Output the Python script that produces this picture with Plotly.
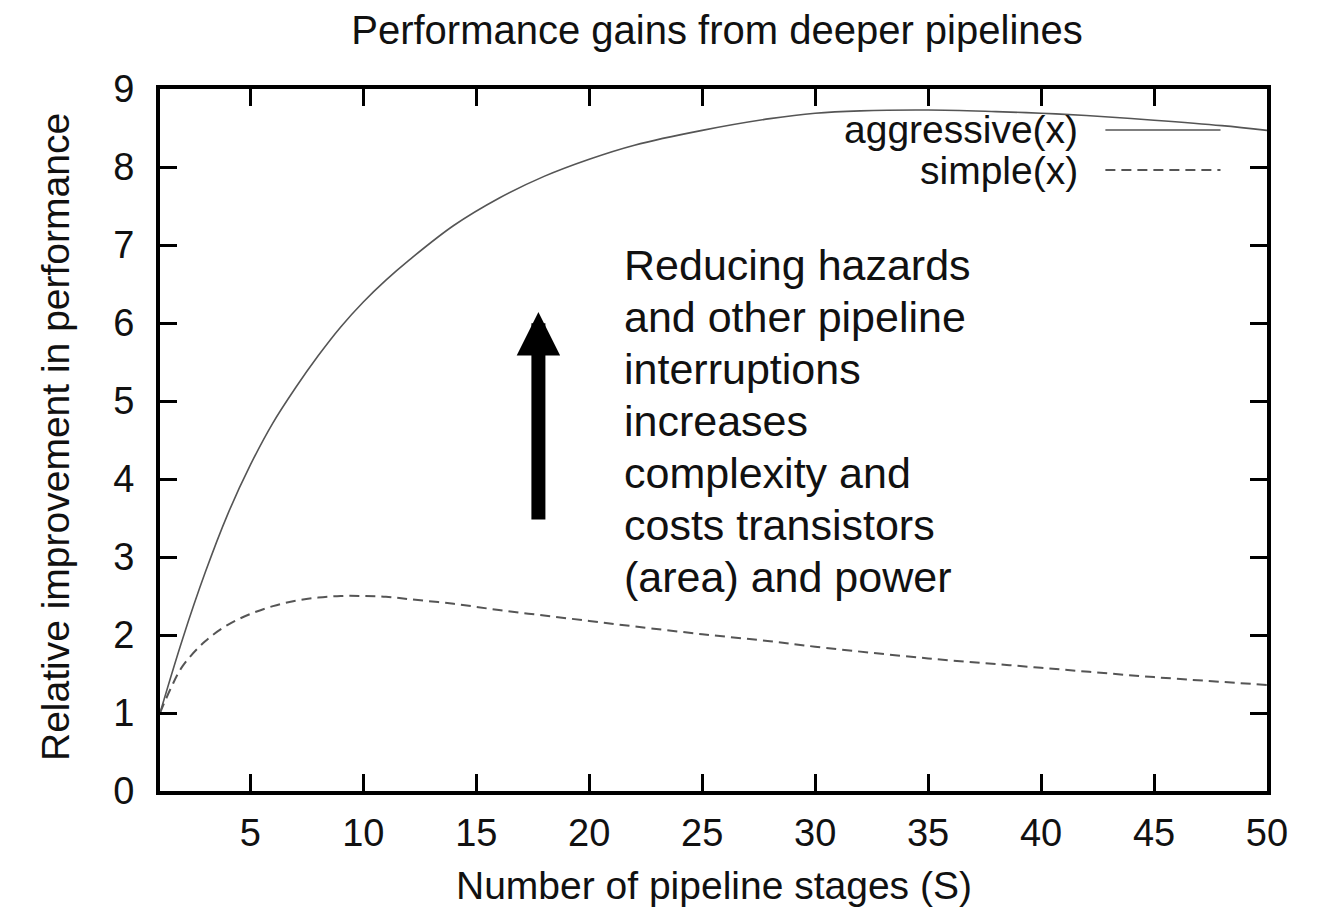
import plotly.graph_objects as go

# ---- data ----
stages_aggr = [1, 2, 3, 4, 5, 6, 7, 8, 9, 10, 11, 12, 14, 16, 18, 20, 22, 25, 28, 30, 32, 35, 38, 40, 42, 45, 48, 50]
aggressive = [1.0, 1.95, 2.8, 3.55, 4.18, 4.72, 5.17, 5.58, 5.95, 6.27, 6.55, 6.8, 7.25, 7.6, 7.88, 8.1, 8.28, 8.47, 8.62, 8.69, 8.72, 8.73, 8.71, 8.69, 8.66, 8.6, 8.53, 8.47]

stages_simple = [1, 1.5, 2, 3, 4, 5, 6, 7, 8, 9, 10, 11, 12, 14, 16, 18, 20, 22, 25, 28, 30, 35, 40, 45, 50]
simple = [1.0, 1.33, 1.6, 1.92, 2.13, 2.27, 2.37, 2.44, 2.48, 2.5, 2.5, 2.49, 2.46, 2.4, 2.32, 2.25, 2.18, 2.11, 2.01, 1.92, 1.85, 1.7, 1.58, 1.46, 1.36]

x_ticks = [5, 10, 15, 20, 25, 30, 35, 40, 45, 50]
y_ticks = [0, 1, 2, 3, 4, 5, 6, 7, 8, 9]
series_names = ["aggressive(x)", "simple(x)"]

title_text = "Performance gains from deeper pipelines"
x_title = "Number of pipeline stages (S)"
y_title = "Relative improvement in performance"
note_lines = ["Reducing hazards", "and other pipeline", "interruptions", "increases",
              "complexity and", "costs transistors", "(area) and power"]

FONT = "Liberation Sans, Arial, Helvetica, sans-serif"
INK = "#111111"
LINE = "#555555"

fig = go.Figure()
fig.add_trace(go.Scatter(x=stages_aggr, y=aggressive, mode="lines", name=series_names[0],
                         line=dict(color=LINE, width=1.6, shape="spline"), showlegend=False))
fig.add_trace(go.Scatter(x=stages_simple, y=simple, mode="lines", name=series_names[1],
                         line=dict(color=LINE, width=2, dash="10px,6px", shape="spline"), showlegend=False))

# gnuplot-style key: text right-aligned, sample line to its right
key_rows = [(0.9416, "solid", 1.6), (0.8846, "10px,6px", 2)]
for name, (yy, dash, w) in zip(series_names, key_rows):
    fig.add_annotation(xref="paper", yref="paper", x=0.831, y=yy, text=name, showarrow=False,
                       xanchor="right", yanchor="middle", font=dict(family=FONT, size=39, color=INK))
    fig.add_shape(type="line", xref="paper", yref="paper", x0=0.854, x1=0.958, y0=yy, y1=yy,
                  line=dict(color=LINE, width=w, dash=dash))

# explanatory text, one annotation per line (gnuplot line spacing)
first_line_y = (791 - 265) / 702
line_step = 52 / 702
for i, line in enumerate(note_lines):
    fig.add_annotation(xref="paper", yref="paper", x=0.417, y=first_line_y - i * line_step,
                       text=line, showarrow=False, xanchor="left", yanchor="middle", align="left",
                       font=dict(family=FONT, size=43, color=INK))

# axis titles
fig.add_annotation(xref="paper", yref="paper", x=0.5, y=-0.134, text=x_title, showarrow=False,
                   xanchor="center", yanchor="middle", font=dict(family=FONT, size=39, color=INK))
fig.add_annotation(xref="paper", yref="paper", x=-0.095, y=0.504, text=y_title, showarrow=False,
                   textangle=-90, xanchor="center", yanchor="middle",
                   font=dict(family=FONT, size=39, color=INK))

# thick upward arrow
fig.add_annotation(xref="x", yref="y", x=17.75, y=6.14, axref="x", ayref="y", ax=17.75, ay=3.46,
                   text="", showarrow=True, arrowhead=2, arrowsize=0.62, arrowwidth=14,
                   arrowcolor="#000000")

axis_common = dict(showline=True, linecolor="#000000", linewidth=4, mirror="allticks",
                   ticks="inside", ticklen=17, tickwidth=3, tickcolor="#000000",
                   showgrid=False, zeroline=False, automargin=False,
                   tickfont=dict(family=FONT, size=38, color=INK))

# page body has an 8px margin, so the figure is 8px smaller and shifted accordingly
fig.update_layout(
    width=1313, height=905,
    margin=dict(l=152, r=54, t=81, b=122),
    paper_bgcolor="white", plot_bgcolor="white",
    title=dict(text=title_text, x=0.54, xanchor="center", y=1 - 21.5 / 905, yanchor="middle",
               font=dict(family=FONT, size=40, color=INK)),
    xaxis=dict(range=[1, 50], tickvals=x_ticks, ticklabelstandoff=5, **axis_common),
    yaxis=dict(range=[0, 9], tickvals=y_ticks, ticklabelstandoff=14, **axis_common),
)

fig.write_html("out.html")
